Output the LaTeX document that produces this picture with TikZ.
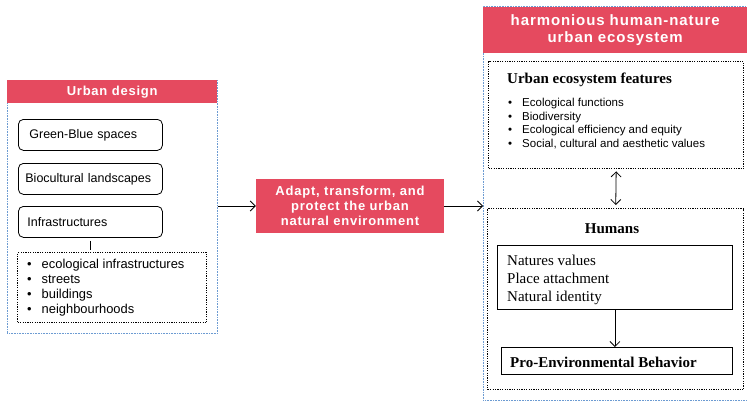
\documentclass[tikz,border=0pt]{standalone}
\usepackage{fontspec}
\setmainfont{Liberation Serif}
\setsansfont{Liberation Sans}
\newfontfamily\headfont{Liberation Sans}[LetterSpace=6]
\usetikzlibrary{arrows.meta, positioning}
\tikzset{>={Straight Barb[length=5pt,width=10pt]}}
\definecolor{myred}{HTML}{E54A5F}
\definecolor{myblue}{HTML}{6C9BD2}
\tikzset{
  head/.style={fill=myred, text=white, font=\headfont\bfseries\fontsize{13}{15}\selectfont, align=center, inner sep=0pt, anchor=north west},
  outerbox/.style={draw=myblue, dash pattern=on 0.8pt off 0.8pt, line width=0.7pt, anchor=north west, inner sep=0pt},
  roundbox/.style={draw, rounded corners=5pt, line width=0.8pt, anchor=north west, inner xsep=9pt, inner ysep=0pt, minimum height=31pt, text width=126pt, font=\sffamily\fontsize{12.5}{14}\selectfont},
  dotbox/.style={draw, dash pattern=on 1.2pt off 1.2pt, line width=1.4pt, anchor=north west, inner sep=0pt},
  plainbox/.style={draw, line width=0.8pt, anchor=north west, inner sep=0pt},
  link/.style={->, line width=0.8pt},
}
\begin{document}
\begin{tikzpicture}[x=1pt, y=-1pt]
  \useasboundingbox (0,0) rectangle (747,404);
  % urban design
  \node[outerbox, minimum width=210pt, minimum height=253pt] (design) at (7,80) {};
  \node[head, minimum width=210pt, minimum height=23pt] (designhead) at (7,80) {Urban design};
  \node[roundbox, text width=126pt] (greenblue) at (18,119) {\hspace{2pt}Green-Blue spaces};
  \node[roundbox, text width=126pt] (biocultural) at (18,163) {\hspace{-2pt}Biocultural landscapes};
  \node[roundbox, text width=126pt] (infra) at (18,206) {Infrastructures};
  \node[dotbox, minimum width=189pt, minimum height=70pt] (infralist) at (17,252) {};
  \draw[line width=0.8pt, shorten <=3pt, shorten >=2pt] (infra.south) -- (infra.south |- infralist.north);
  \foreach \txt [count=\i] in {ecological infrastructures, streets, buildings, neighbourhoods}
    \node[anchor=base west, inner sep=0pt, font=\sffamily\fontsize{12.9}{14}\selectfont] (infraitem\i) at (27,253+15*\i) {\textbullet\hspace{10pt}\txt};
  % centre
  \node[fill=myred, text=white, font=\headfont\bfseries\fontsize{13}{15}\selectfont, align=center, minimum width=188pt, minimum height=54pt, inner sep=0pt] (adapt) at (350,206) {Adapt, transform, and\\protect the urban\\natural environment};
  \draw[link] (adapt.west -| design.east) -- (adapt.west);
  % harmonious ecosystem
  \node[outerbox, minimum width=267pt, minimum height=394pt] (harmony) at (483,6) {};
  \node[head, minimum width=264pt, minimum height=46pt, font=\headfont\bfseries\fontsize{15}{17.5}\selectfont] (harmonyhead) at (483,7) {harmonious human-nature\\urban ecosystem};
  \draw[link] (adapt.east) -- (adapt.east -| harmony.west);
  \node[dotbox, minimum width=255pt, minimum height=107pt] (features) at (488,61) {};
  \node[anchor=base west, inner sep=0pt, font=\bfseries\fontsize{15}{17}\selectfont] (featurestitle) at (507,83) {Urban ecosystem features};
  \foreach \txt [count=\i] in {Ecological functions, Biodiversity, Ecological efficiency and equity, {Social, cultural and aesthetic values}}
    \node[anchor=base west, inner sep=0pt, font=\sffamily\fontsize{11.5}{13}\selectfont] (featureitem\i) at (508,93.5+13.4*\i) {\textbullet\hspace{10pt}\txt};
  \node[dotbox, minimum width=256pt, minimum height=181pt] (humans) at (487,208) {};
  \draw[<->, line width=0.8pt, shorten <=2pt, shorten >=3pt] (features.south) -- (humans.north);
  \node[anchor=base, inner sep=0pt, font=\bfseries\fontsize{15}{17}\selectfont] (humanstitle) at (612,233) {Humans};
  \node[plainbox, minimum width=235pt, minimum height=64pt] (values) at (497,245) {};
  \foreach \txt [count=\i] in {Natures values, Place attachment, Natural identity}
    \node[anchor=base west, inner sep=0pt, font=\fontsize{15}{18}\selectfont] (valueitem\i) at (507,247+18*\i) {\txt};
  \node[plainbox, minimum width=231pt, minimum height=27pt] (behavior) at (501,347) {};
  \node[anchor=base west, inner sep=0pt, font=\bfseries\fontsize{15}{17}\selectfont] (behaviortext) at (510,367) {Pro-Environmental Behavior};
  \draw[link] (values.south) -- (behavior.north -| values.south);
\end{tikzpicture}
\end{document}
